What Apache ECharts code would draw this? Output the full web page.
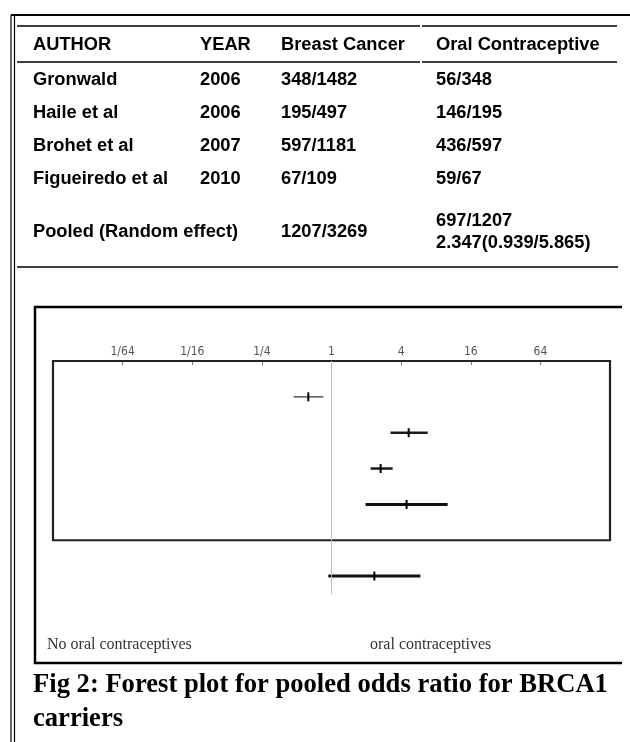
<!DOCTYPE html>
<html>
<head>
<meta charset="utf-8">
<script src="https://cdn.jsdelivr.net/npm/echarts@6/dist/echarts.min.js"></script>
<style>
  html, body { margin: 0; padding: 0; background: #fff; }
  #chart { width: 630px; height: 742px; }
</style>
</head>
<body>
<div id="chart"></div>
<script>
// table rows
const authors = ['Gronwald', 'Haile et al', 'Brohet et al', 'Figueiredo et al'];
const years = ['2006', '2006', '2007', '2010'];
const breastCancer = ['348/1482', '195/497', '597/1181', '67/109'];
const oralContraceptive = ['56/348', '146/195', '436/597', '59/67'];
const pooledLabel = 'Pooled (Random effect)';
const pooledBreast = '1207/3269';
const pooledOral = ['697/1207', '2.347(0.939/5.865)'];
const headers = ['AUTHOR', 'YEAR', 'Breast Cancer', 'Oral Contraceptive'];

// forest plot values (odds ratio, 95% CI), last one is pooled
const oddsRatio = [0.63, 4.65, 2.66, 4.46, 2.347];
const ciLow = [0.47, 3.24, 2.18, 1.97, 0.939];
const ciHigh = [0.85, 6.79, 3.38, 10.1, 5.865];
const tickLabels = { '-6': '1/64', '-4': '1/16', '-2': '1/4', '0': '1', '2': '4', '4': '16', '6': '64' };

const lineWidths = [1.5, 2.5, 2.5, 3, 3];
const lineColors = ['#555', '#1a1a1a', '#1a1a1a', '#111', '#111'];

const chart = echarts.init(document.getElementById('chart'));

const forestData = oddsRatio.map((v, i) => {
  const row = i < oddsRatio.length - 1 ? i + 1 : i + 2;
  return [Math.log2(ciLow[i]), Math.log2(ciHigh[i]), Math.log2(v), row, i];
});

const sans = '"Liberation Sans", Arial, sans-serif';
const serif = '"Liberation Serif", "Times New Roman", serif';
const tableFont = 'bold 18.3px ' + sans;
const colX = [33, 200, 281, 436];
const rowY = [80, 113, 146, 179];

function txt(text, x, y, font, fill) {
  return {
    type: 'text',
    silent: true,
    style: { text: text, x: x, y: y, font: font, fill: fill || '#000', textAlign: 'left', textVerticalAlign: 'middle' },
  };
}
function hline(x1, x2, y, w) {
  return { type: 'line', silent: true, shape: { x1: x1, y1: y, x2: x2, y2: y }, style: { stroke: '#000', lineWidth: w } };
}
function vline(x, y1, y2, w) {
  return { type: 'line', silent: true, shape: { x1: x, y1: y1, x2: x, y2: y2 }, style: { stroke: '#000', lineWidth: w } };
}

const graphics = [
  // page frame
  hline(11, 630, 15, 2),
  vline(11, 15, 742, 1.2),
  vline(14.5, 15, 742, 1.2),
  // table lines
  hline(17, 420, 26, 1.5),
  hline(422, 617, 26, 1.5),
  hline(17, 420, 62, 1.5),
  hline(422, 617, 62, 1.5),
  hline(17, 618, 267, 1.5),
  // plot frame (open at right)
  {
    type: 'polyline',
    silent: true,
    shape: { points: [[622, 307], [35, 307], [35, 663], [622, 663]] },
    style: { stroke: '#000', lineWidth: 2.5, fill: null },
  },
];

headers.forEach((h, j) => graphics.push(txt(h, colX[j], 45, tableFont)));
authors.forEach((a, i) => {
  graphics.push(txt(a, colX[0], rowY[i], tableFont));
  graphics.push(txt(years[i], colX[1], rowY[i], tableFont));
  graphics.push(txt(breastCancer[i], colX[2], rowY[i], tableFont));
  graphics.push(txt(oralContraceptive[i], colX[3], rowY[i], tableFont));
});
graphics.push(txt(pooledLabel, colX[0], 232, tableFont));
graphics.push(txt(pooledBreast, colX[2], 232, tableFont));
graphics.push(txt(pooledOral[0], colX[3], 221, tableFont));
graphics.push(txt(pooledOral[1], colX[3], 243, tableFont));

graphics.push(txt('No oral contraceptives', 47, 645, '16px ' + serif, '#333'));
graphics.push(txt('oral contraceptives', 370, 645, '16px ' + serif, '#333'));
graphics.push(txt('Fig 2: Forest plot for pooled odds ratio for BRCA1', 33, 685, 'bold 26.6px ' + serif));
graphics.push(txt('carriers', 33, 719, 'bold 26.6px ' + serif));

chart.setOption({
  animation: false,
  graphic: graphics,
  grid: {
    left: 53,
    top: 361,
    width: 557,
    height: 233,
  },
  xAxis: {
    type: 'value',
    position: 'top',
    min: -8,
    max: 8,
    interval: 2,
    axisLine: { show: false },
    axisTick: { show: true, inside: true, length: 4, lineStyle: { color: '#777', width: 1 } },
    splitLine: { show: false },
    axisLabel: {
      margin: 3,
      color: '#555',
      fontSize: 12,
      fontFamily: '"DejaVu Sans Condensed", "Liberation Sans Narrow", sans-serif',
      formatter: (v) => tickLabels[String(v)] || '',
    },
  },
  yAxis: {
    type: 'value',
    min: 0,
    max: 6.5,
    inverse: true,
    show: false,
  },
  series: [
    {
      type: 'custom',
      clip: false,
      data: forestData,
      renderItem: (params, api) => {
        const y = api.value(3);
        const idx = api.value(4);
        const lo = api.coord([api.value(0), y]);
        const hi = api.coord([api.value(1), y]);
        const pt = api.coord([api.value(2), y]);
        return {
          type: 'group',
          children: [
            {
              type: 'line',
              shape: { x1: lo[0], y1: lo[1], x2: hi[0], y2: hi[1] },
              style: { stroke: lineColors[idx], lineWidth: lineWidths[idx] },
            },
            {
              type: 'line',
              shape: { x1: pt[0], y1: pt[1] - 4.5, x2: pt[0], y2: pt[1] + 4.5 },
              style: { stroke: '#000', lineWidth: 2 },
            },
          ],
        };
      },
      markLine: {
        silent: true,
        symbol: 'none',
        label: { show: false },
        lineStyle: { color: '#bbb', width: 1, type: 'solid' },
        data: [{ xAxis: 0 }],
      },
      markArea: {
        silent: true,
        itemStyle: { color: 'rgba(0,0,0,0)', borderColor: '#222', borderWidth: 2.2 },
        data: [[{ xAxis: -8, yAxis: 0 }, { xAxis: 8, yAxis: 5 }]],
      },
    },
  ],
});
</script>
</body>
</html>
